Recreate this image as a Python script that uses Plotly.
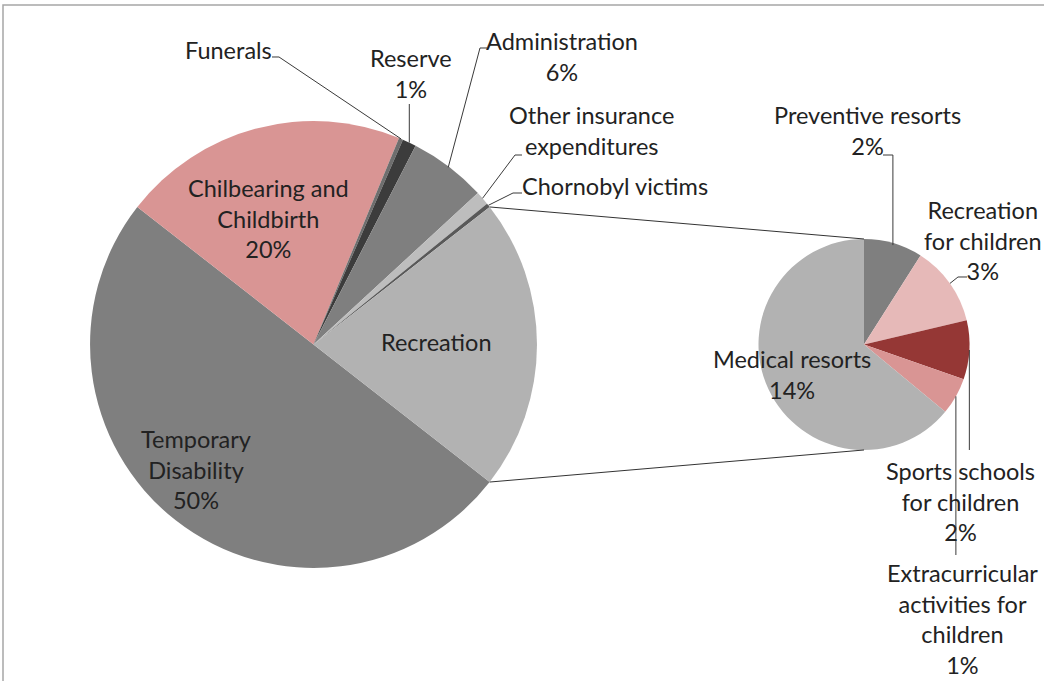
import math
import plotly.graph_objects as go

W, H = 1044, 681

# ---------------- data ----------------
main_labels = ["Temporary Disability", "Chilbearing and Childbirth", "Funerals", "Reserve",
               "Administration", "Other insurance expenditures", "Chornobyl victims", "Recreation"]
main_values = [50.0, 20.7, 0.3, 1.0, 5.6, 1.0, 0.3, 21.1]
main_pct = ["50%", "20%", "", "1%", "6%", "", "", ""]
main_colors = ["#7f7f7f", "#d99594", "#6e6e6e", "#3c3c3c", "#7f7f7f", "#bdbdbd", "#595959", "#b2b2b2"]

sub_labels = ["Preventive resorts", "Recreation for children", "Sports schools for children",
              "Extracurricular activities for children", "Medical resorts"]
sub_values = [1.9, 2.6, 1.9, 1.2, 13.5]
sub_pct = ["2%", "3%", "2%", "1%", "14%"]
sub_colors = ["#7f7f7f", "#e6b9b8", "#953735", "#d99594", "#b2b2b2"]

# ---------------- geometry (pixels) ----------------
MCX, MCY, MR = 313.5, 344.5, 223.5
SCX, SCY, SR = 864.0, 344.5, 105.5

def px(x):
    return x / W

def py(y):
    return 1 - y / H

def domain(cx, cy, r):
    return dict(x=[px(cx - r), px(cx + r)], y=[py(cy + r), py(cy - r)])

rec_angle = main_values[-1] / sum(main_values) * 360
main_rot = 90 + rec_angle / 2

fig = go.Figure()
fig.add_trace(go.Pie(labels=main_labels, values=main_values, sort=False, direction="clockwise",
                     rotation=main_rot, marker=dict(colors=main_colors, line=dict(width=0)),
                     textinfo="none", domain=domain(MCX, MCY, MR), showlegend=False,
                     hoverinfo="label+percent"))
fig.add_trace(go.Pie(labels=sub_labels, values=sub_values, sort=False, direction="clockwise",
                     rotation=0, marker=dict(colors=sub_colors, line=dict(width=0)),
                     textinfo="none", domain=domain(SCX, SCY, SR), showlegend=False,
                     hoverinfo="label+percent"))

def mid_angles(values, rot):
    tot = sum(values)
    out, acc = [], rot
    for v in values:
        a = v / tot * 360
        out.append(acc + a / 2)
        acc += a
    return out

def edge(cx, cy, r, ang):
    t = math.radians(ang)
    return (cx + r * math.sin(t), cy - r * math.cos(t))

mm = mid_angles(main_values, main_rot)
sm = mid_angles(sub_values, 0)

shapes = []

def poly(points, color="#3a3a3a", width=1):
    d = "M " + " L ".join(f"{px(x):.5f},{py(y):.5f}" for x, y in points)
    shapes.append(dict(type="path", path=d, xref="paper", yref="paper",
                       line=dict(color=color, width=width)))

# connector lines between the pies
top_m = edge(MCX, MCY, MR, 90 - rec_angle / 2)
bot_m = edge(MCX, MCY, MR, 90 + rec_angle / 2)
poly([top_m, edge(SCX, SCY, SR, 0)], "#333333", 1)
poly([bot_m, edge(SCX, SCY, SR, 180)], "#333333", 1)

# leader lines main pie
e = edge(MCX, MCY, MR, mm[2]); poly([(272, 57), (279, 57), e])
e = edge(MCX, MCY, MR, mm[3]); poly([(e[0], 104), e])
e = edge(MCX, MCY, MR - 1, mm[4]); poly([(487, 48), (480, 48), e])
e = edge(MCX, MCY, MR, mm[5]); poly([(522, 155), (515, 155), e])
e = edge(MCX, MCY, MR, mm[6]); poly([(522, 193), (513, 193), e])
# leader lines secondary pie
e = edge(SCX, SCY, SR - 2, sm[0]); poly([(883, 155), (e[0], 155), e])
e = edge(SCX, SCY, SR, sm[1]); poly([(967, 277), (958, 277), e])
e = edge(SCX, SCY, SR, sm[2]); poly([e, (e[0], 450)])
e = edge(SCX, SCY, SR, sm[3]); poly([e, (e[0], 555)])

# chart frame
shapes.append(dict(type="rect", xref="paper", yref="paper", x0=px(3), y0=py(5), x1=1.02, y1=-0.02,
                   line=dict(color="#a6a6a6", width=1.5), layer="below"))

FONT = dict(family="Lato, Liberation Sans, sans-serif", size=23.5, color="#222222")

def lab(text, x, y):
    return dict(text=text, x=px(x), y=py(y), xref="paper", yref="paper", showarrow=False,
                xanchor="center", yanchor="middle", align="center", font=FONT)

annotations = [
    lab("Chilbearing and<br>Childbirth<br>" + main_pct[1], 268, 218),
    lab("Temporary<br>Disability<br>" + main_pct[0], 196, 469),
    lab(main_labels[7], 436, 342),
    lab(main_labels[2], 228, 50),
    lab("Reserve<br>" + main_pct[3], 411, 74),
    lab("Administration<br>" + main_pct[4], 562, 57),
    lab("Other insurance<br>expenditures", 591, 131),
    lab(main_labels[6], 615, 186),
    lab("Preventive resorts<br>" + sub_pct[0], 867, 130),
    lab("Recreation<br>for children<br>" + sub_pct[1], 983, 240),
    lab("Medical resorts<br>" + sub_pct[4], 792, 374),
    lab("Sports schools<br>for children<br>" + sub_pct[2], 960, 501),
    lab("Extracurricular<br>activities for<br>children<br>" + sub_pct[3], 962, 619),
]

fig.update_layout(width=W, height=H, margin=dict(l=0, r=0, t=0, b=0),
                  paper_bgcolor="white", plot_bgcolor="white",
                  shapes=shapes, annotations=annotations, showlegend=False)

fig.write_html("out.html", config={"displayModeBar": False},
               post_script="document.body.style.margin='0';document.body.style.overflow='hidden';")
